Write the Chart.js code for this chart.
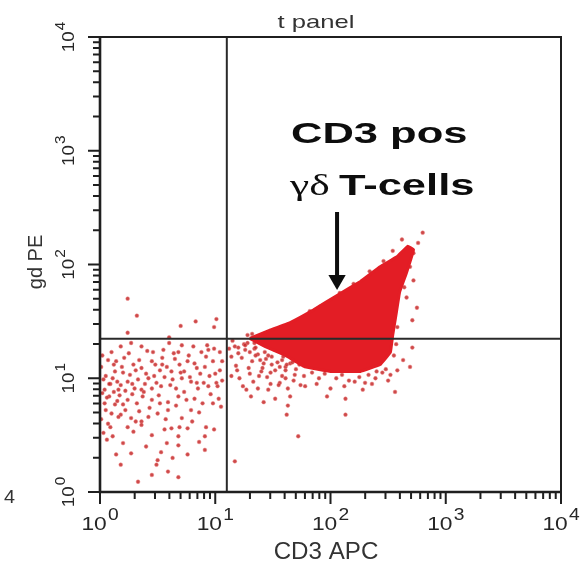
<!DOCTYPE html>
<html>
<head>
<meta charset="utf-8">
<script src="https://cdn.jsdelivr.net/npm/chart.js@4.4.1/dist/chart.umd.min.js"></script>
<style>
    body { margin: 0; background: #fff; }
</style>
</head>
<body>
<canvas id="graficoCitometria" width="582" height="566"></canvas>
<script>
// valores, em décadas (log10 da intensidade)
// quadrante superior esquerdo
const supEsqX = [0.24, 0.32, 0.24, 0.70, 0.83, 1.01, 0.99, 0.60];
const supEsqY = [1.70, 1.55, 1.40, 1.46, 1.50, 1.52, 1.45, 1.36];

// quadrante inferior esquerdo
const infEsqX = [0.27, 0.36, 0.46, 0.55, 0.60, 0.71, 0.81, 0.94, 0.99, 1.04, 0.10, 0.18, 0.68, 0.88,
    0.07, 0.14, 0.21, 0.29, 0.36, 0.45, 0.52, 0.58, 0.62, 0.69, 0.76, 0.82, 0.91, 0.98, 1.04, 0.13, 0.01,
    0.03, 0.11, 0.18, 0.24, 0.33, 0.42, 0.49, 0.56, 0.63, 0.71, 0.79, 0.85, 0.94, 1.01, 1.02, 0.04, 0.16,
    0.30, 0.36, 0.45, 0.53, 0.66, 0.78, 0.08, 0.17, 0.24, 0.32, 0.37, 0.45, 0.52, 0.59, 0.68, 0.75, 0.82,
    0.89, 0.98, 1.05, 0.04, 0.13, 0.20, 0.10, 0.18, 0.27, 0.34, 0.42, 0.36, 0.50, 0.59, 0.71, 0.79, 0.07,
    0.16, 0.09, 0.24, 0.29, 0.36, 0.45, 0.56, 0.62, 0.69, 0.76, 0.68, 0.92, 0.99, 0.91, 0.03, 0.11, 0.58,
    0.53, 0.14, 0.27, 0.50, 0.76, 0.91, 0.68, 0.18, 0.49, 0.59, 0.68, 0.33,
    0.05, 0.09, 0.15, 0.20, 0.26, 0.12, 0.22, 0.28, 0.06, 0.02, 0.31, 0.39, 0.40, 0.48, 0.54, 0.65, 0.73,
    0.87, 0.92, 1.06, 0.95, 0.84,
    0.02, 0.05, 0.08, 0.12, 0.15, 0.19, 0.22, 0.25, 0.28, 0.31, 0.34, 0.38, 0.41, 0.43, 0.47, 0.51, 0.54,
    0.57, 0.61, 0.64, 0.66, 0.70, 0.73, 0.77, 0.80, 0.84, 0.86, 0.90, 0.93, 0.96, 1.00, 1.03, 1.06, 0.01,
    0.06, 0.20, 0.40, 0.63, 0.86, 0.45];
const infEsqY = [1.31, 1.28, 1.23, 1.25, 1.31, 1.29, 1.28, 1.25, 1.26, 1.23, 1.23, 1.28, 1.23, 1.23,
    1.16, 1.15, 1.18, 1.12, 1.09, 1.15, 1.07, 1.10, 1.06, 1.12, 1.15, 1.13, 1.10, 1.15, 1.07, 1.06, 1.10,
    0.99, 1.00, 0.94, 0.97, 0.99, 1.00, 0.96, 1.01, 0.99, 1.00, 0.97, 0.91, 0.93, 0.96, 0.93, 0.90, 0.90,
    0.91, 0.90, 0.91, 0.93, 0.91, 1.01, 0.84, 0.85, 0.81, 0.78, 0.84, 0.81, 0.78, 0.79, 0.84, 0.81, 0.82,
    0.78, 0.78, 0.75, 0.78, 0.77, 0.77, 0.69, 0.68, 0.65, 0.71, 0.66, 0.62, 0.69, 0.72, 0.65, 0.72, 0.60,
    0.66, 0.57, 0.57, 0.53, 0.59, 0.50, 0.55, 0.56, 0.57, 0.56, 0.49, 0.57, 0.55, 0.49, 0.52, 0.49, 0.43,
    0.35, 0.33, 0.34, 0.28, 0.33, 0.37, 0.41, 0.24, 0.24, 0.18, 0.13, 0.09,
    1.02, 0.95, 0.97, 1.05, 1.03, 0.88, 0.89, 0.86, 0.83, 0.87, 1.07, 0.95, 1.04, 1.12, 1.18, 1.17, 1.06,
    1.04, 1.19, 1.15, 1.02, 0.96,
    1.20, 0.72, 0.95, 1.12, 0.80, 1.10, 0.72, 1.22, 0.95, 0.62, 1.16, 0.88, 1.24, 0.74, 1.02, 0.85, 1.12,
    0.64, 0.94, 1.22, 0.76, 1.05, 0.88, 1.20, 0.62, 1.09, 0.70, 0.96, 1.29, 0.86, 1.04, 0.82, 0.98, 0.64,
    0.46, 0.43, 0.40, 0.30, 0.44, 0.15];

// quadrante inferior direito (pontos esparsos)
const infDirX = [1.17, 1.26, 1.34, 1.43, 1.52, 1.14, 1.23, 1.32, 1.42, 1.49, 1.58, 1.19, 1.30, 1.40, 1.52,
    1.61, 1.21, 1.33, 1.45, 1.56, 1.27, 1.37, 1.46, 1.55, 1.63, 1.52, 1.65, 1.63, 1.78, 1.97, 2.13, 1.62,
    2.13, 1.72, 1.17, 1.20, 1.37, 1.47, 1.28, 1.15,
    1.12, 1.18, 1.25, 1.29, 1.35, 1.38, 1.44, 1.48, 1.24, 1.14, 1.31, 1.42, 1.58, 1.68, 1.73];
const infDirY = [1.28, 1.25, 1.26, 1.23, 1.26, 1.19, 1.18, 1.15, 1.13, 1.19, 1.16, 1.07, 1.04, 1.06, 1.07,
    1.10, 1.00, 0.97, 1.01, 0.96, 0.90, 0.91, 0.90, 0.94, 0.91, 0.82, 0.84, 0.76, 0.93, 0.84, 0.82, 0.68,
    0.68, 0.49, 0.27, 1.22, 1.21, 1.29, 1.31, 1.33,
    1.26, 1.11, 1.30, 1.09, 1.20, 1.02, 1.17, 0.95, 0.93, 1.02, 0.84, 0.79, 1.02, 0.98, 1.12];

// pontos soltos na borda da população CD3+ gd+
const bordaX = [2.80, 2.76, 2.72, 2.69, 2.72, 2.75, 2.71, 2.62, 2.66, 2.71, 2.63, 2.69, 2.58,
    1.76, 1.91, 2.08, 2.20, 2.34, 2.46, 2.54, 1.28, 1.82, 1.32, 1.58, 1.66, 1.71,
    1.74, 2.00, 2.21, 2.39, 2.52, 1.61, 1.48, 2.56,
    1.34, 1.41, 1.46, 1.52, 1.26, 1.20,
    1.52, 1.59, 1.65, 1.54, 1.46, 1.39, 1.61, 1.69, 1.49, 1.35, 1.30, 1.41,
    2.60, 2.64, 2.58, 2.57, 2.55, 2.45, 2.30,
    1.62, 1.70, 1.77, 1.84, 1.90, 1.95, 2.05, 2.10, 2.16, 2.25, 2.33, 2.40, 2.48, 2.50, 1.88, 2.12,
    1.56, 1.67, 2.36, 2.28];
const bordaY = [2.28, 2.19, 2.10, 1.98, 1.86, 1.62, 1.51, 2.22, 1.71, 1.27, 1.16, 1.10, 1.07,
    1.52, 1.63, 1.75, 1.83, 1.94, 2.03, 2.12, 1.38, 1.59, 1.39, 1.42, 1.39, 1.45,
    0.94, 0.91, 0.97, 1.00, 1.03, 1.00, 1.05, 0.88,
    1.31, 1.34, 1.29, 1.35, 1.29, 1.27,
    1.25, 1.19, 1.13, 1.14, 1.20, 1.16, 1.07, 1.03, 1.12, 1.27, 1.23, 1.09,
    1.90, 1.80, 1.45, 1.30, 1.20, 1.05, 0.96,
    1.12, 1.08, 1.02, 1.05, 1.00, 1.04, 1.00, 1.03, 0.98, 1.01, 1.03, 1.06, 1.08, 0.98, 0.95, 0.93,
    1.10, 1.14, 0.95, 0.90];

// contorno da região densa (população CD3 pos gd T)
const nucleoX = [1.30, 1.47, 1.65, 1.85, 2.06, 2.26, 2.43, 2.58, 2.67, 2.72, 2.66, 2.60, 2.57, 2.54,
    2.52, 2.43, 2.26, 2.00, 1.78, 1.61, 1.43, 1.30];
const nucleoY = [1.35, 1.42, 1.49, 1.60, 1.73, 1.85, 1.98, 2.07, 2.16, 2.13, 1.93, 1.76, 1.57, 1.38,
    1.23, 1.12, 1.06, 1.06, 1.10, 1.20, 1.28, 1.35];

// gates (valores de intensidade)
const gateX = 12.6;
const gateY = 22.3;

// seta da anotação
const setaX = 114;
const setaTopo = 290;
const setaPonta = 73;

const expoentes = [0, 1, 2, 3, 4];

function pontos(lx, ly) {
    return lx.map(function (v, i) {
        return { x: 10 ** v, y: 10 ** ly[i] };
    });
}

function escreve(ctx, txt, x, y, fonte, sx, alinh, girado) {
    ctx.save();
    ctx.translate(x, y);
    if (girado) ctx.rotate(-Math.PI / 2);
    ctx.scale(sx, 1);
    ctx.font = fonte;
    ctx.textAlign = alinh;
    ctx.textBaseline = 'alphabetic';
    ctx.fillText(txt, 0, 0);
    ctx.restore();
}

// rótulo 10^n centrado em (x, y)
function potencia(ctx, n, x, y, tam, tamExp, sobe, sx, girado) {
    ctx.save();
    ctx.translate(x, y);
    if (girado) ctx.rotate(-Math.PI / 2);
    ctx.scale(sx, 1);
    ctx.textBaseline = 'alphabetic';
    ctx.textAlign = 'left';
    ctx.font = tam + 'px "Liberation Sans", Arial, sans-serif';
    const w1 = ctx.measureText('10').width;
    ctx.font = tamExp + 'px "Liberation Sans", Arial, sans-serif';
    const w2 = ctx.measureText(String(n)).width;
    const ini = -(w1 + 1 + w2) / 2;
    ctx.font = tam + 'px "Liberation Sans", Arial, sans-serif';
    ctx.fillText('10', ini, 0);
    ctx.font = tamExp + 'px "Liberation Sans", Arial, sans-serif';
    ctx.fillText(String(n), ini + w1 + 1, -sobe);
    ctx.restore();
}

const eixos = {
    id: 'eixos',
    afterDraw(chart) {
        const ctx = chart.ctx;
        const a = chart.chartArea;
        const ex = chart.scales.x;
        const ey = chart.scales.y;

        ctx.save();
        ctx.strokeStyle = '#1f1f1f';
        ctx.lineWidth = 2;
        ctx.strokeRect(a.left, a.top, a.right - a.left, a.bottom - a.top);
        ctx.lineWidth = 2.6;
        ctx.beginPath();
        ctx.moveTo(a.left, a.top);
        ctx.lineTo(a.left, a.bottom);
        ctx.lineTo(a.right, a.bottom);
        ctx.stroke();

        // marcas das escalas log
        ctx.lineWidth = 2;
        ctx.beginPath();
        for (let d = 0; d <= 4; d++) {
            for (let m = 1; m <= 9; m++) {
                if (d === 4 && m > 1) break;
                const v = m * 10 ** d;
                const t = m === 1 ? 12 : 7;
                const px = ex.getPixelForValue(v);
                const py = ey.getPixelForValue(v);
                ctx.moveTo(px, a.bottom);
                ctx.lineTo(px, a.bottom + t);
                ctx.moveTo(a.left, py);
                ctx.lineTo(a.left - t, py);
            }
        }
        ctx.stroke();

        ctx.fillStyle = '#262626';
        expoentes.forEach(function (n) {
            potencia(ctx, n, ex.getPixelForValue(10 ** n), 530, 19, 16, 10, 1.2, false);
            potencia(ctx, n, 74, ey.getPixelForValue(10 ** n), 17, 14, 9, 1.1, true);
        });

        ctx.fillStyle = '#333';
        escreve(ctx, 't panel', 316, 28, '19px "Liberation Sans", Arial, sans-serif', 1.35, 'center', false);
        escreve(ctx, 'CD3 APC', 326, 559, '23px "Liberation Sans", Arial, sans-serif', 1.05, 'center', false);
        escreve(ctx, 'gd PE', 42, 262, '20px "Liberation Sans", Arial, sans-serif', 1.0, 'center', true);
        escreve(ctx, '4', 4, 503, '18px "Liberation Sans", Arial, sans-serif', 1.1, 'left', false);

        ctx.fillStyle = '#0d0d0d';
        escreve(ctx, 'CD3 pos', 291, 143, 'bold 30px "Liberation Sans", Arial, sans-serif', 1.45, 'left', false);
        escreve(ctx, 'γδ', 290, 195, '30px "Liberation Serif", "Times New Roman", serif', 1.45, 'left', false);
        escreve(ctx, 'T-cells', 339, 195, 'bold 30px "Liberation Sans", Arial, sans-serif', 1.45, 'left', false);
        ctx.restore();
    }
};

const corPonto = 'rgba(196, 42, 42, 0.85)';
const halo = 'rgba(238, 130, 130, 0.45)';

const dados = {
    datasets: [
        {
            type: 'line', label: 'gate x',
            data: [{ x: gateX, y: 1 }, { x: gateX, y: 10000 }],
            borderColor: '#2a2a2a', borderWidth: 2, pointRadius: 0, order: 0
        },
        {
            type: 'line', label: 'gate y',
            data: [{ x: 1, y: gateY }, { x: 10000, y: gateY }],
            borderColor: '#2a2a2a', borderWidth: 2, pointRadius: 0, order: 0
        },
        {
            type: 'line', label: 'seta',
            data: [{ x: setaX, y: setaTopo }, { x: setaX, y: setaPonta }],
            borderColor: '#0d0d0d', borderWidth: 4,
            pointRadius: [0, 10], pointStyle: 'triangle', pointRotation: 180,
            pointBackgroundColor: '#0d0d0d', pointBorderWidth: 0, order: 0
        },
        {
            type: 'line', label: 'CD3 pos gd T-cells',
            data: pontos(nucleoX, nucleoY),
            borderColor: '#e31d25', backgroundColor: '#e31d25', fill: 'shape',
            borderWidth: 3, pointRadius: 0, tension: 0.05, order: 1
        },
        {
            type: 'scatter', label: 'celulas',
            data: pontos(supEsqX, supEsqY)
                .concat(pontos(infEsqX, infEsqY))
                .concat(pontos(infDirX, infDirY))
                .concat(pontos(bordaX, bordaY)),
            backgroundColor: corPonto, borderColor: halo, borderWidth: 1, pointRadius: 1.9, order: 2
        }
    ]
};

const config = {
    type: 'scatter',
    data: dados,
    options: {
        responsive: false,
        animation: false,
        layout: { padding: { left: 100, right: 21, top: 37, bottom: 74 } },
        plugins: {
            legend: { display: false },
            tooltip: { enabled: false }
        },
        scales: {
            x: { type: 'logarithmic', min: 1, max: 10000, display: false },
            y: { type: 'logarithmic', min: 1, max: 10000, display: false }
        }
    },
    plugins: [eixos]
};

new Chart(document.getElementById('graficoCitometria'), config);
</script>
</body>
</html>
